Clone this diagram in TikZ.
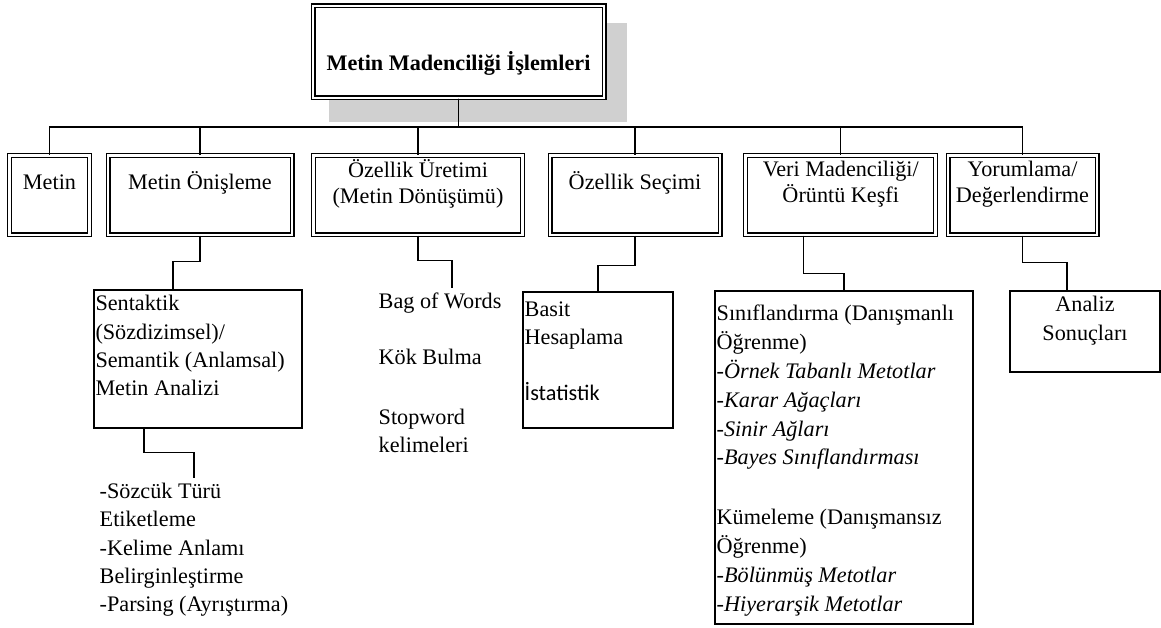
\documentclass[tikz,border=0pt]{standalone}
\usepackage{fontspec}
\setmainfont{Liberation Serif}
\newfontfamily\calibrifont{Carlito}
\usepackage{xcolor}
\usetikzlibrary{calc}

\definecolor{shadowgray}{RGB}{208,208,208}

\begin{document}
\begin{tikzpicture}[
        x=1pt, y=-1pt,
        line width=1.4pt,
        font=\fontsize{22.2}{28.3}\selectfont,
        dbox/.style={rectangle, draw, fill=white, double, double distance=2.8pt, line width=1.1pt, inner sep=0pt},
        sbox/.style={rectangle, draw, line width=1.4pt, inner sep=0pt},
        txt/.style={inner sep=0pt, anchor=north, align=center},
        ltxt/.style={inner sep=0pt, anchor=north west, align=left},
        twoline/.style={font=\fontsize{22.2}{26.5}\selectfont}
    ]
    \useasboundingbox (0,0) rectangle (1161,628);

        % Title with shadow
        \fill[shadowgray] (329,23) rectangle (627,122);
        \node[dbox, minimum width=291pt, minimum height=92pt] (top) at (458.5,52) {};
        \node[txt, font=\fontsize{22.2}{28.3}\selectfont\bfseries] (topT) at ($(top.center)+(0,-2)$) {\strut Metin Madenciliği İşlemleri};

        % Steps
        \node[dbox, minimum width=80pt, minimum height=79.5pt] (metin) at (49.5,195.25) {};
        \node[dbox, minimum width=184pt, minimum height=79.5pt] (onisleme) at (200,195.25) {};
        \node[dbox, minimum width=209pt, minimum height=79.5pt] (uretim) at (418,195.25) {};
        \node[dbox, minimum width=170pt, minimum height=79.5pt] (secim) at (635,195.25) {};
        \node[dbox, minimum width=190pt, minimum height=79.5pt] (veri) at (840.75,195.25) {};
        \node[dbox, minimum width=149pt, minimum height=79.5pt] (yorum) at (1022.5,195.25) {};

        \node[txt] (metinT) at ($(metin.center)+(0,-26.5)$) {\strut Metin};
        \node[txt] (onislemeT) at ($(onisleme.center)+(0,-26.5)$) {\strut Metin Önişleme};
        \node[txt, twoline] (uretimT) at ($(uretim.center)+(0,-37)$) {\strut Özellik Üretimi\\(Metin Dönüşümü)};
        \node[txt] (secimT) at ($(secim.center)+(0,-26.5)$) {\strut Özellik Seçimi};
        \node[txt, twoline] (veriT) at ($(veri.center)+(0,-38)$) {\strut Veri Madenciliği/\\Örüntü Keşfi};
        \node[txt, twoline] (yorumT) at ($(yorum.center)+(0,-38)$) {\strut Yorumlama/\\Değerlendirme};

        % Bus
        \draw (top.south) -- ++(0,28.5) -| (metin.north);
        \draw (top.south) -- ++(0,28.5) -| (onisleme.north);
        \draw (top.south) -- ++(0,28.5) -| (uretim.north);
        \draw (top.south) -- ++(0,28.5) -| (secim.north);
        \draw (top.south) -- ++(0,28.5) -| (veri.north);
        \draw (top.south) -- ++(0,28.5) -| (yorum.north);

        % Details
        \node[sbox, minimum width=208pt, minimum height=138pt] (sentaktik) at (198,359) {};
        \node[ltxt] (sentaktikT) at ($(sentaktik.north west)+(1.5,1)$) {\strut Sentaktik\\(Sözdizimsel)/\\Semantik (Anlamsal)\\Metin Analizi};
        \node[ltxt] (sozcuk) at (99,478) {\strut -Sözcük Türü\\Etiketleme\\-Kelime Anlamı\\Belirginleştirme\\-Parsing (Ayrıştırma)};

        \node[ltxt] (bow) at (378,288) {\strut Bag of Words\\[28pt]Kök Bulma\\[31pt]Stopword\\kelimeleri};

        \node[sbox, minimum width=150pt, minimum height=136pt] (basit) at (598,360) {};
        \node[ltxt] (basitT) at (524,296) {\strut Basit\\Hesaplama\\[27pt]{\calibrifont İstatistik}};

        \node[sbox, minimum width=258pt, minimum height=333pt] (dm) at (844,457.5) {};
        \node[ltxt, font=\fontsize{22.2}{28.8}\selectfont] (dmT) at (716,300) {\strut Sınıflandırma (Danışmanlı\\Öğrenme)\\\textit{-Örnek Tabanlı Metotlar}\\\textit{-Karar Ağaçları}\\\textit{-Sinir Ağları}\\\textit{-Bayes Sınıflandırması}\\[31pt]Kümeleme (Danışmansız\\Öğrenme)\\\textit{-Bölünmüş Metotlar}\\\textit{-Hiyerarşik Metotlar}};

        \node[sbox, minimum width=150pt, minimum height=81pt] (analiz) at (1085,331.5) {};
        \node[txt] (analizT) at ($(analiz.north)+(0,1)$) {\strut Analiz\\Sonuçları};

        % Links
        \draw (onisleme.south) -- ++(0,26) -| ([xshift=-25pt]sentaktik.north);
        \draw ([xshift=-54pt]sentaktik.south) -- ++(0,24) -| (sozcuk.north);
        \draw (uretim.south) -- ++(0,25) -| ([xshift=12pt]bow.north);
        \draw (secim.south) -- ++(0,30) -| (basit.north);
        \draw ([xshift=-37pt]veri.south) -- ++(0,38) -| (dm.north);
        \draw (yorum.south) -- ++(0,27) -| ([xshift=-18pt]analiz.north);

\end{tikzpicture}
\end{document}
